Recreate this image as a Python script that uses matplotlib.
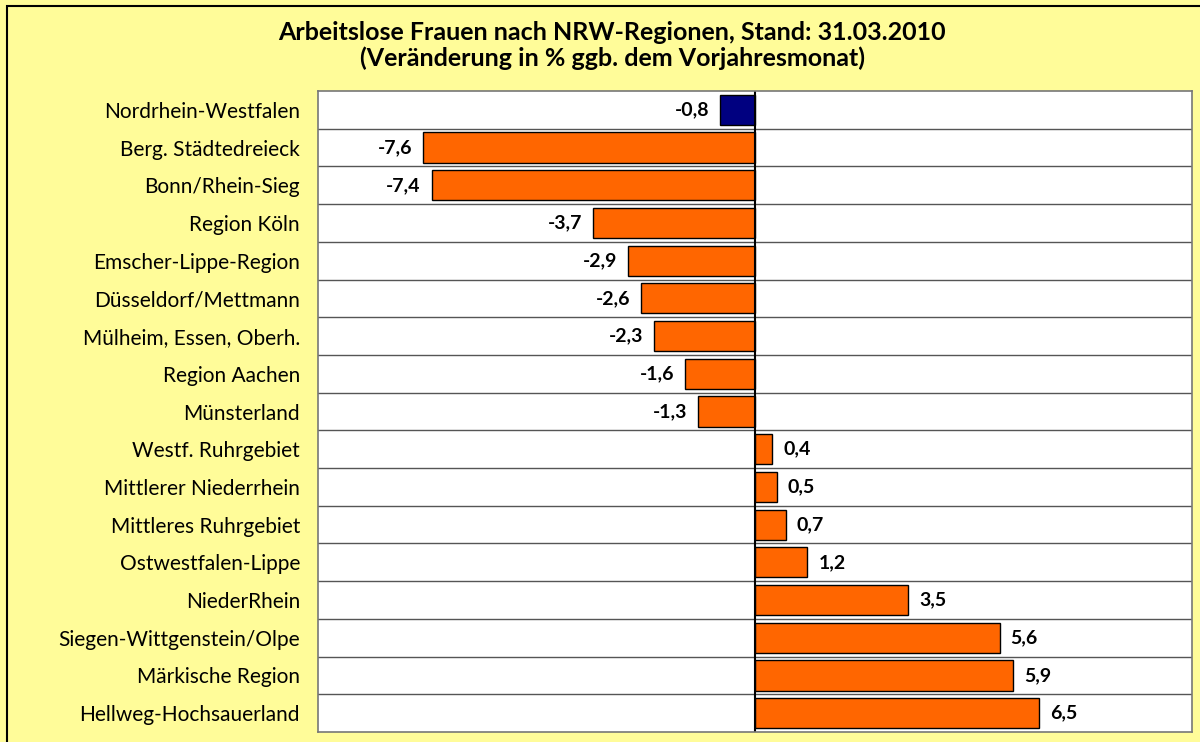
import matplotlib.pyplot as plt
from matplotlib.patches import Rectangle

regions = [
    "Nordrhein-Westfalen", "Berg. Städtedreieck", "Bonn/Rhein-Sieg", "Region Köln",
    "Emscher-Lippe-Region", "Düsseldorf/Mettmann", "Mülheim, Essen, Oberh.",
    "Region Aachen", "Münsterland", "Westf. Ruhrgebiet", "Mittlerer Niederrhein",
    "Mittleres Ruhrgebiet", "Ostwestfalen-Lippe", "NiederRhein",
    "Siegen-Wittgenstein/Olpe", "Märkische Region", "Hellweg-Hochsauerland",
]
change = [-0.8, -7.6, -7.4, -3.7, -2.9, -2.6, -2.3, -1.6, -1.3,
          0.4, 0.5, 0.7, 1.2, 3.5, 5.6, 5.9, 6.5]
colors = ["#000080"] + ["#FF6600"] * (len(regions) - 1)

plt.rcParams['font.family'] = ['Lato', 'DejaVu Sans']

fig = plt.figure(figsize=(12, 7.42), dpi=100, facecolor="#FFFC99")
# border of the yellow panel
fig.patches.append(Rectangle((7 / 1200, -0.01), 1.1, 1 - 6 / 742 + 0.01,
                             transform=fig.transFigure, fill=False,
                             edgecolor="black", linewidth=1.5))

ax = fig.add_axes([318 / 1200, 10 / 742, 874 / 1200, 641 / 742])
ax.set_facecolor("white")

y = list(range(len(regions)))
ax.barh(y, change, height=0.8, color=colors, edgecolor="black", linewidth=1)
ax.set_xlim(-10, 10)
ax.set_ylim(len(regions) - 0.5, -0.5)

for i, v in enumerate(change):
    lbl = f"{v:.1f}".replace(".", ",")
    if v < 0:
        ax.text(v - 0.25, i, lbl, ha="right", va="center", fontsize=14,
                fontweight="bold")
    else:
        ax.text(v + 0.25, i, lbl, ha="left", va="center", fontsize=14,
                fontweight="bold")

# row separators
for k in range(1, len(regions)):
    ax.axhline(k - 0.5, color="#555555", linewidth=1)
ax.axvline(0, color="black", linewidth=1.5)

ax.set_yticks(y)
ax.set_yticklabels(regions, fontsize=15)
ax.tick_params(axis="y", length=0, pad=13)
ax.set_xticks([])
for s in ax.spines.values():
    s.set_color("#777777")
    s.set_linewidth(1.2)

fig.text(612 / 1200, 1 - 32 / 742, "Arbeitslose Frauen nach NRW-Regionen, Stand: 31.03.2010",
         ha="center", va="center", fontsize=18, fontweight="bold")
fig.text(612 / 1200, 1 - 58 / 742, "(Veränderung in % ggb. dem Vorjahresmonat)",
         ha="center", va="center", fontsize=18, fontweight="bold")

plt.savefig("out.png", dpi=100, facecolor=fig.get_facecolor())
